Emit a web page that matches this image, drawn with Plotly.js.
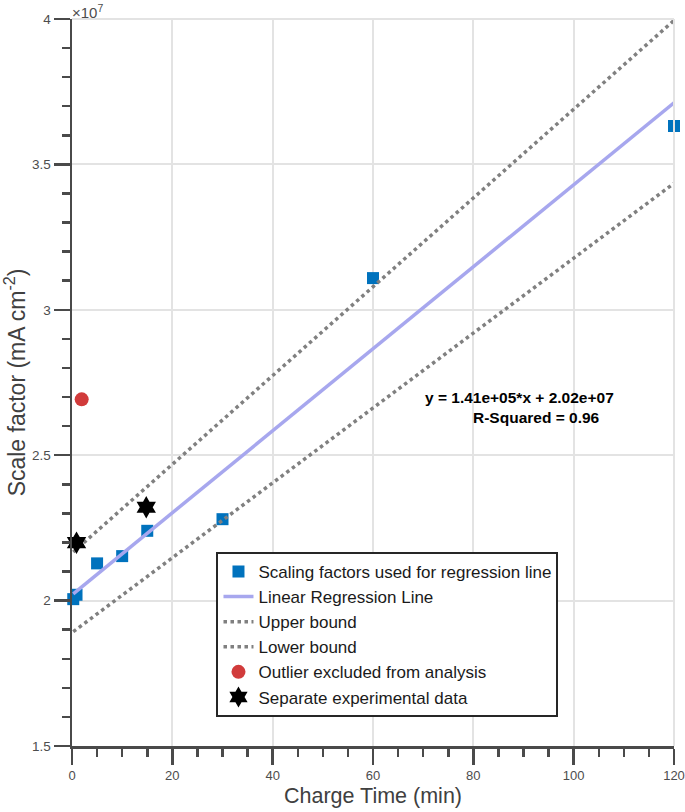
<!DOCTYPE html>
<html>
<head>
<meta charset="utf-8">
<script src="https://cdn.plot.ly/plotly-3.0.1.min.js"></script>
<style>html,body{margin:0;padding:0;background:#fff;}#chart{width:685px;height:812px;}</style>
</head>
<body>
<div id="chart"></div>
<script>
// Scaling factors used for regression (x = charge time in min, y = scale factor)
const regX = [0.25, 0.9, 5, 10, 15, 30, 60, 120];
const regY = [2.005e7, 2.02e7, 2.128e7, 2.153e7, 2.24e7, 2.28e7, 3.109e7, 3.632e7];
// Linear regression line endpoints
const lineX = [0.25, 120];
const lineY = [2.0235e7, 3.712e7];
// Upper / lower bound endpoints
const upX = [0.25, 120];
const upY = [2.167e7, 3.995e7];
const loX = [0.25, 120];
const loY = [1.893e7, 3.435e7];
// Outlier
const outX = [1.93];
const outY = [2.692e7];
// Separate experimental data
const sepX = [0.9, 14.8];
const sepY = [2.199e7, 2.321e7];
// Tick labels
const yTickVals = [1.5e7, 2e7, 2.5e7, 3e7, 3.5e7, 4e7];
const yTickText = ['1.5', '2', '2.5', '3', '3.5', '4'];
const xTickVals = [0, 20, 40, 60, 80, 100, 120];

const traces = [
  {x: regX, y: regY, mode: 'markers', type: 'scatter', name: 'Scaling factors used for regression line',
   cliponaxis: false, marker: {symbol: 'square', size: 12, color: '#0072BD'}},
  {x: lineX, y: lineY, mode: 'lines', type: 'scatter', name: 'Linear Regression Line',
   line: {color: '#A7A7EE', width: 3.5}},
  {x: upX, y: upY, mode: 'lines', type: 'scatter', name: 'Upper bound',
   line: {color: '#808080', width: 3.5, dash: 'dot'}},
  {x: loX, y: loY, mode: 'lines', type: 'scatter', name: 'Lower bound',
   line: {color: '#808080', width: 3.5, dash: 'dot'}},
  {x: outX, y: outY, mode: 'markers', type: 'scatter', name: 'Outlier excluded from analysis',
   cliponaxis: false, marker: {symbol: 'circle', size: 14, color: '#D13B3B'}},
  {x: sepX, y: sepY, mode: 'markers', type: 'scatter', name: 'Separate experimental data',
   cliponaxis: false, marker: {symbol: 'hexagram', size: 17, color: '#000000'}}
];

const axisCol = '#4a4a4a';
const layout = {
  width: 685, height: 812,
  margin: {l: 72, r: 11, t: 19, b: 66},
  paper_bgcolor: '#ffffff', plot_bgcolor: '#ffffff',
  font: {family: 'Arial, "Liberation Sans", sans-serif', color: '#4d4d4d'},
  showlegend: true,
  legend: {
    x: 0.24, y: 0.267, xanchor: 'left', yanchor: 'top',
    bgcolor: '#ffffff', bordercolor: '#262626', borderwidth: 2,
    font: {size: 17, color: '#1a1a1a', family: 'Arial, "Liberation Sans", sans-serif'},
    tracegroupgap: 0, itemwidth: 30
  },
  xaxis: {
    range: [0, 120], autorange: false,
    tickvals: xTickVals, ticks: 'outside', ticklen: 16, tickwidth: 2.5, tickcolor: axisCol,
    ticklabeloverflow: 'allow',
    showline: true, linecolor: axisCol, linewidth: 2.5,
    showgrid: true, gridcolor: '#e3e3e3', gridwidth: 2,
    zeroline: false, tickfont: {size: 13, color: '#4d4d4d'},
    minor: {dtick: 5, ticks: 'outside', ticklen: 8, tickwidth: 2.5, tickcolor: axisCol, showgrid: false},
    title: {text: 'Charge Time (min)', font: {size: 21.5, color: '#404040'}, standoff: 6}
  },
  yaxis: {
    range: [1.5e7, 4e7], autorange: false,
    tickvals: yTickVals, ticktext: yTickText, ticks: 'outside', ticklen: 16, tickwidth: 2.5, tickcolor: axisCol,
    ticklabeloverflow: 'allow',
    showline: true, linecolor: axisCol, linewidth: 2.5,
    showgrid: true, gridcolor: '#e3e3e3', gridwidth: 2,
    zeroline: false, tickfont: {size: 13.5, color: '#4d4d4d'},
    minor: {dtick: 1e6, ticks: 'outside', ticklen: 8, tickwidth: 2.5, tickcolor: axisCol, showgrid: false},
    title: {text: 'Scale factor (mA cm<sup>-2</sup>)', font: {size: 23, color: '#404040'}, standoff: 8}
  },
  shapes: [
    {type: 'line', xref: 'paper', yref: 'paper', x0: 0, x1: 1, y0: 1, y1: 1, line: {color: '#e3e3e3', width: 2}},
    {type: 'line', xref: 'paper', yref: 'paper', x0: 1, x1: 1, y0: 0, y1: 1, line: {color: '#e3e3e3', width: 2}}
  ],
  annotations: [
    {xref: 'paper', yref: 'paper', x: 0.0, y: 1.0, xanchor: 'left', yanchor: 'bottom', showarrow: false,
     text: '×10<sup>7</sup>', font: {size: 15, color: '#4d4d4d'}, xshift: -2, yshift: -4},
    {xref: 'x', yref: 'y', x: 89.2, y: 2.70e7, showarrow: false, xanchor: 'center', yanchor: 'middle',
     text: '<b>y = 1.41e+05*x + 2.02e+07</b>', font: {size: 15.5, color: '#000000'}},
    {xref: 'x', yref: 'y', x: 92.6, y: 2.628e7, showarrow: false, xanchor: 'center', yanchor: 'middle',
     text: '<b>R-Squared = 0.96</b>', font: {size: 15.5, color: '#000000'}}
  ]
};

Plotly.newPlot('chart', traces, layout, {displayModeBar: false, staticPlot: true});
</script>
</body>
</html>
